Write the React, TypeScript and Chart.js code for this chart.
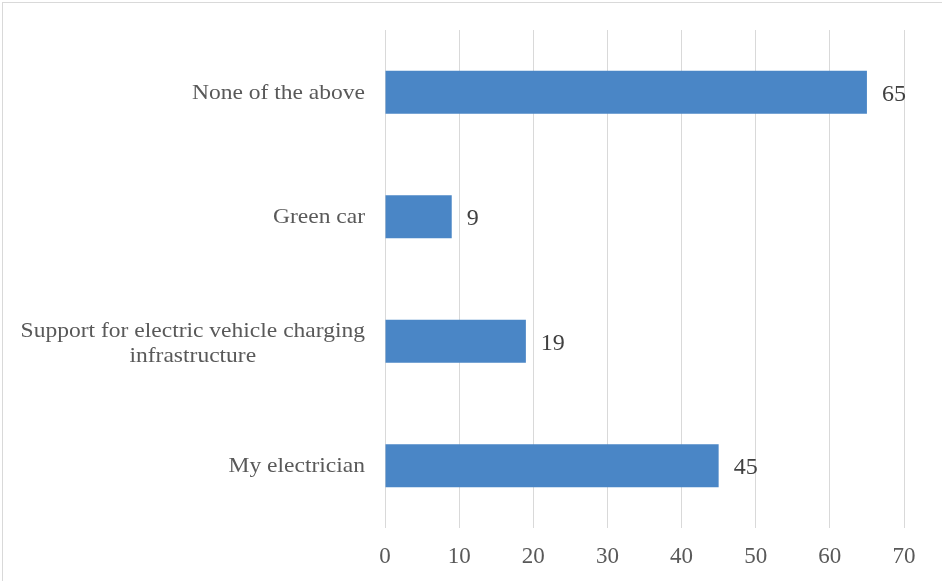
import React, { useEffect, useRef } from "react";
import { Chart, registerables } from "chart.js";

Chart.register(...registerables);

const categories: (string | string[])[] = [
  "None of the above",
  "Green car",
  ["Support for electric vehicle charging", "infrastructure"],
  "My electrician",
];
const values: number[] = [65, 9, 19, 45];
const xTicks: number[] = [0, 10, 20, 30, 40, 50, 60, 70];

const FONT = "'Liberation Serif', 'Times New Roman', serif";

const labelPlugin = {
  id: "customLabels",
  afterDatasetsDraw(chart: any) {
    const ctx = chart.ctx;
    const meta = chart.getDatasetMeta(0);
    ctx.save();
    // value labels
    ctx.font = `24px ${FONT}`;
    ctx.fillStyle = "#404040";
    ctx.textAlign = "left";
    ctx.textBaseline = "middle";
    meta.data.forEach((bar: any, i: number) => {
      ctx.fillText(String(values[i]), bar.x + 15, bar.y + 2);
    });
    // category labels (horizontally stretched serif)
    const yScale = chart.scales.y;
    const right = chart.chartArea.left - 20;
    const sx = 1.12;
    ctx.font = `21px ${FONT}`;
    ctx.fillStyle = "#595959";
    ctx.textAlign = "center";
    const lh = 25;
    categories.forEach((c, i) => {
      const lines = Array.isArray(c) ? c : [c];
      const maxW = Math.max(...lines.map((l) => ctx.measureText(l).width)) * sx;
      const cx = right - maxW / 2;
      const yc = yScale.getPixelForTick(i);
      const start = yc - ((lines.length - 1) * lh) / 2 + (lines.length > 1 ? 2 : 0);
      lines.forEach((l, j) => {
        ctx.save();
        ctx.translate(cx, start + j * lh + 1);
        ctx.scale(sx, 1);
        ctx.fillText(l, 0, 0);
        ctx.restore();
      });
    });
    ctx.restore();
  },
};

export default function App() {
  const ref = useRef<HTMLCanvasElement>(null);
  useEffect(() => {
    const chart = new Chart(ref.current!, {
      type: "bar",
      data: {
        labels: categories as any,
        datasets: [
          {
            data: values,
            backgroundColor: "#4A86C6",
            barPercentage: 0.345,
            categoryPercentage: 1,
          },
        ],
      },
      plugins: [labelPlugin],
      options: {
        indexAxis: "y",
        responsive: false,
        animation: false,
        layout: { padding: { top: 30, right: 38, left: 0, bottom: 0 } },
        plugins: { legend: { display: false }, tooltip: { enabled: false } },
        scales: {
          x: {
            min: 0,
            max: 70,
            afterBuildTicks: (scale: any) => {
              scale.ticks = xTicks.map((v) => ({ value: v }));
            },
            afterFit: (scale: any) => {
              scale.height = 53;
            },
            grid: { color: "#d9d9d9", drawTicks: false, lineWidth: 1 },
            border: { display: false },
            ticks: {
              color: "#595959",
              font: { family: FONT, size: 23 },
              padding: 15,
            },
          },
          y: {
            grid: { display: false },
            border: { display: false },
            ticks: { display: false },
            afterFit: (scale: any) => {
              scale.width = 385;
            },
          },
        },
      },
    });
    return () => chart.destroy();
  }, []);
  return (
    <div style={{ position: "absolute", left: 0, top: 0, width: 942, height: 581, background: "#fff" }}>
      <div
        style={{
          position: "absolute",
          left: 2,
          top: 2,
          width: 950,
          height: 600,
          border: "1px solid #d9d9d9",
          boxSizing: "border-box",
        }}
      />
      <canvas ref={ref} width={942} height={581} style={{ position: "absolute", left: 0, top: 0 }} />
    </div>
  );
}
